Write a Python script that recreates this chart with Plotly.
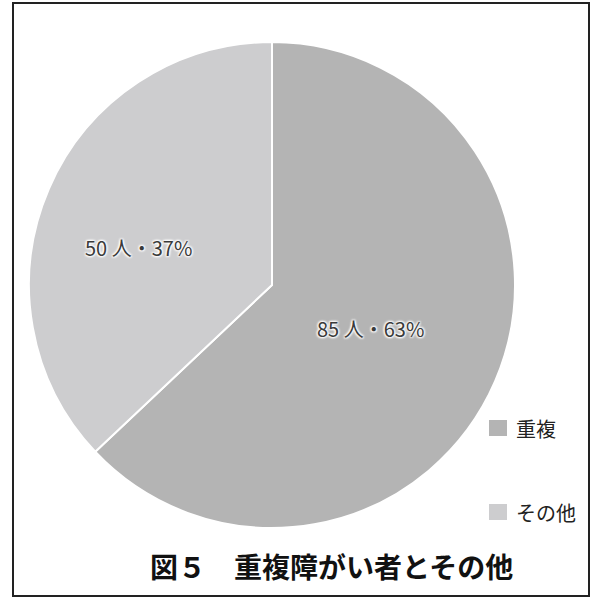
import plotly.graph_objects as go

categories = ["重複", "その他"]
counts = [85, 50]
percents = [63, 37]
colors = ["#b4b4b4", "#cdcdcf"]
title_text = "図５　重複障がい者とその他"

W, H = 591, 598
cx, cy, r = 272, 285, 243

fig = go.Figure()
fig.add_trace(go.Pie(
    labels=categories,
    values=counts,
    sort=False,
    direction="clockwise",
    rotation=0,
    marker=dict(colors=colors, line=dict(color="white", width=2)),
    textinfo="none",
    hoverinfo="skip",
    showlegend=False,
    domain=dict(x=[(cx - r) / W, (cx + r) / W], y=[1 - (cy + r) / H, 1 - (cy - r) / H]),
))

jp = "Noto Sans CJK JP"
shadow = "1px 1px 2px white, -1px -1px 2px white, 1px -1px 2px white, -1px 1px 2px white"
label_pos = [(370, 328), (138, 248)]
annotations = []
for cat, n, p, (lx, ly) in zip(categories, counts, percents, label_pos):
    annotations.append(dict(
        x=lx / W, y=1 - ly / H, xref="paper", yref="paper",
        text=f"{n} 人・{p}%", showarrow=False,
        font=dict(family=jp, size=20, color="#3a3a3a", shadow=shadow),
        xanchor="center", yanchor="middle",
    ))

# legend
legend_y = [428, 512]
shapes = []
for cat, col, ly in zip(categories, colors, legend_y):
    shapes.append(dict(type="rect", xref="paper", yref="paper",
                       x0=489 / W, x1=507 / W, y0=1 - (ly + 8) / H, y1=1 - (ly - 8) / H,
                       fillcolor=col, line=dict(width=0)))
    annotations.append(dict(
        x=514 / W, y=1 - ly / H, xref="paper", yref="paper",
        text=cat, showarrow=False, xanchor="left", yanchor="middle",
        font=dict(family=jp, size=20, color="#222222"),
    ))

annotations.append(dict(
    x=332 / W, y=1 - 566 / H, xref="paper", yref="paper",
    text=f"<b>{title_text}</b>", showarrow=False, xanchor="center", yanchor="middle",
    font=dict(family=jp, size=28, color="#111111"),
))

# frame
shapes.append(dict(type="rect", xref="paper", yref="paper",
                   x0=13 / W, x1=589 / W, y0=1 - 596 / H, y1=1 - 3 / H,
                   line=dict(color="#222222", width=2), fillcolor="rgba(0,0,0,0)"))

fig.update_layout(
    width=W, height=H,
    margin=dict(l=0, r=0, t=0, b=0),
    paper_bgcolor="white", plot_bgcolor="white",
    annotations=annotations, shapes=shapes,
)

fig.write_html("out.html",
               config={"displayModeBar": False},
               post_script="document.body.style.margin='0';document.body.style.overflow='hidden';")
